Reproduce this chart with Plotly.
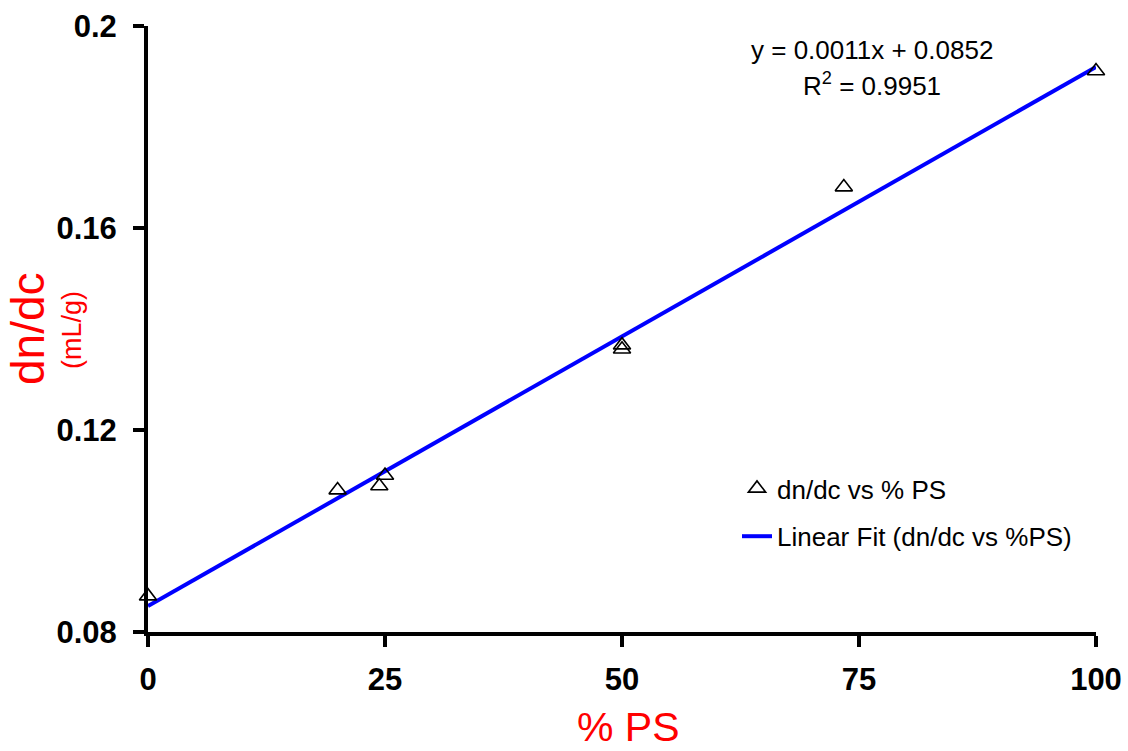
import numpy as np
import plotly.graph_objects as go

# Measured refractive index increment vs polystyrene content
ps_percent = [0, 20, 24.4, 25, 50, 50, 73.4, 100]
dndc = [0.0871, 0.1081, 0.1089, 0.1110, 0.1368, 0.1360, 0.1681, 0.1911]

x_ticks = [0, 25, 50, 75, 100]
x_tick_text = ["0", "25", "50", "75", "100"]
y_ticks = [0.08, 0.12, 0.16, 0.2]
y_tick_text = ["0.08", "0.12", "0.16", "0.2"]

# Least-squares linear trendline
slope, intercept = np.polyfit(ps_percent, dndc, 1)
fit_x = [0, 100]
fit_y = [intercept + slope * v for v in fit_x]

FONT = "Liberation Sans, Arial, Helvetica, sans-serif"

fig = go.Figure()
# fit line first so the markers sit on top of it
fig.add_trace(go.Scatter(
    x=fit_x, y=fit_y, mode="lines", name="Linear Fit (dn/dc vs %PS)",
    line=dict(color="#0000FF", width=4),
    cliponaxis=False, legendgroup="b", legendrank=2,
))
fig.add_trace(go.Scatter(
    x=ps_percent, y=dndc, mode="markers", name="dn/dc vs % PS",
    marker=dict(symbol="triangle-up-open", size=15, color="black",
                line=dict(width=1.6, color="black")),
    cliponaxis=False, legendgroup="a", legendrank=1,
))

axis_common = dict(
    showline=True, linecolor="black", linewidth=4,
    ticks="outside", ticklen=11, tickwidth=4, tickcolor="black",
    showgrid=False, zeroline=False, automargin=False,
    tickfont=dict(family=FONT, size=31, color="black", weight="bold"),
)

PLOT_L, PLOT_R, PLOT_T, PLOT_B = 148, 1096, 26, 632
W = PLOT_R - PLOT_L
H = PLOT_B - PLOT_T


def px(x):
    return (x - PLOT_L) / W


def py(y):
    return (PLOT_B - y) / H


def label(text, x, y, size, color="black", angle=0):
    return dict(text=text, x=px(x), y=py(y), xref="paper", yref="paper",
                xanchor="center", yanchor="middle", showarrow=False,
                textangle=angle, font=dict(family=FONT, size=size, color=color))


fig.update_layout(
    width=1128, height=751,
    margin=dict(l=PLOT_L, r=1128 - PLOT_R, t=PLOT_T, b=751 - PLOT_B),
    paper_bgcolor="white", plot_bgcolor="white",
    showlegend=True,
    legend=dict(
        x=px(737), y=py(465), xanchor="left", yanchor="top",
        font=dict(family=FONT, size=26, color="black"),
        bgcolor="rgba(0,0,0,0)", traceorder="grouped",
        tracegroupgap=11,
    ),
    xaxis=dict(range=[0, 100], tickvals=x_ticks, ticktext=x_tick_text,
               ticklabelstandoff=6, **axis_common),
    yaxis=dict(range=[0.08, 0.2], tickvals=y_ticks, ticktext=y_tick_text,
               ticklabelstandoff=10, **axis_common),
    annotations=[
        label("y = 0.0011x + 0.0852", 872, 50, 26),
        label("R<sup>2</sup> = 0.9951", 872, 84, 26),
        label("% PS", 628, 727, 41, "red"),
        label("dn/dc", 28, 328, 46, "red", -90),
        label("(mL/g)", 72, 330, 27, "red", -90),
    ],
)

fig.write_html("out.html")
